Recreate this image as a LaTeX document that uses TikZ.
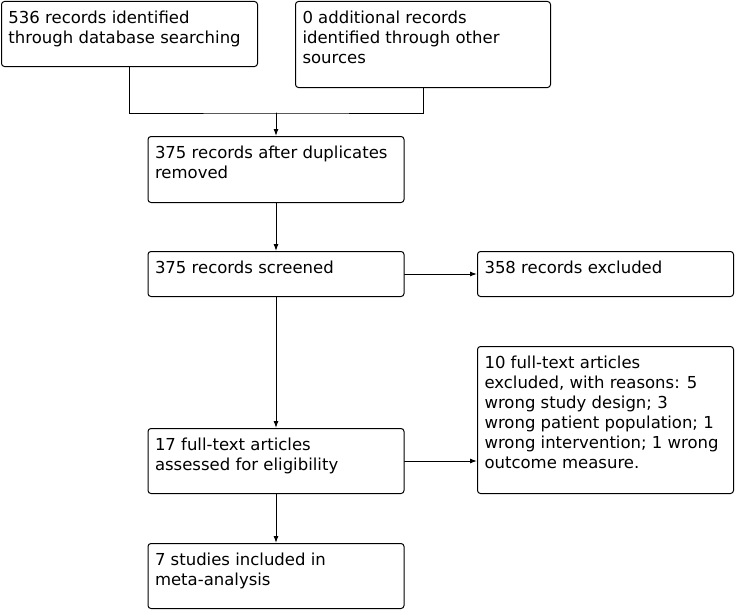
\documentclass[tikz,border=0pt]{standalone}
\usepackage{fontspec}
\setmainfont{DejaVu Sans}
\usetikzlibrary{arrows.meta}

% text block of a box: width, height, lines
\newcommand{\boxtext}[3]{\parbox[t][#2][t]{#1}{\strut #3}}

\begin{document}
\begin{tikzpicture}
		[x=1pt,y=-1pt,line cap=round,
		%Styles
		flowbox/.style={draw,line width=1pt,rounded corners=3pt,anchor=north west,
			inner xsep=7pt,inner ysep=8pt,font=\fontsize{16.5}{20}\selectfont},
		flowline/.style={line width=1pt},
		>={Latex[length=7pt,width=5pt]}
		]
		
		\useasboundingbox (0,0) rectangle (735,610);
		
		%The boxes
		\node[flowbox] (found) at (1,1) {\boxtext{242pt}{49pt}{536 records identified\\through database searching}};
		\node[flowbox] (other) at (295,1) {\boxtext{241pt}{70pt}{0 additional records\\identified through other\\sources}};
		\node[flowbox] (nodup) at (147.5,136) {\boxtext{242pt}{50pt}{375 records after duplicates\\removed}};
		\node[flowbox] (screen) at (147.5,251) {\boxtext{242pt}{29pt}{375 records screened}};
		\node[flowbox] (excl) at (477,251) {\boxtext{242pt}{29pt}{358 records excluded}};
		\node[flowbox] (fullexcl) at (477,346) {\boxtext{242pt}{131pt}{10 full-text articles\\excluded, with reasons: 5\\wrong study design; 3\\wrong patient population; 1\\wrong intervention; 1 wrong\\outcome measure.}};
		\node[flowbox] (elig) at (147.5,428) {\boxtext{242pt}{49pt}{17 full-text articles\\assessed for eligibility}};
		\node[flowbox] (incl) at (147.5,543) {\boxtext{242pt}{49pt}{7 studies included in\\meta-analysis}};
		
		%The connectors
		\coordinate (merge) at (nodup.north |- 0,113);
		\draw[flowline] (found.south) |- (merge) -| (other.south);
		\draw[flowline,->] (merge) -- (nodup.north);
		\draw[flowline,->] (nodup.south) -- (screen.north);
		\draw[flowline,->] (screen.east) -- (excl.west);
		\draw[flowline,->] (screen.south) -- (elig.north);
		\draw[flowline,->] (elig.east) -- (elig.east -| fullexcl.west);
		\draw[flowline,->] (elig.south) -- (incl.north);
	\end{tikzpicture}
\end{document}
